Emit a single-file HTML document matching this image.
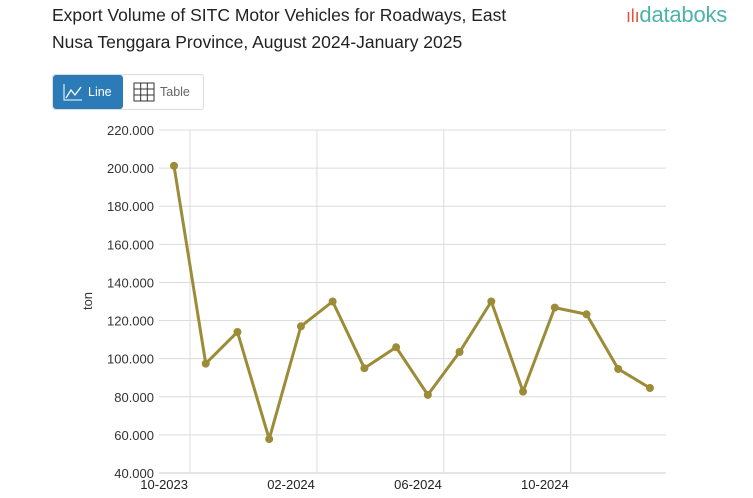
<!DOCTYPE html>
<html><head><meta charset="utf-8"><style>
body{margin:0;width:753px;height:498px;background:#fff;font-family:"Liberation Sans",sans-serif;overflow:hidden;position:relative}
.title{position:absolute;left:52px;top:2px;font-size:17.5px;line-height:27px;color:#222}
.logo{position:absolute;left:626px;top:2px;font-size:22px;color:#4bb3a8;letter-spacing:-0.2px}
.btns{position:absolute;left:52px;top:74px;height:34px;border:1px solid #ddd;border-radius:3px;display:flex}
.b{display:flex;align-items:center;font-size:12.5px;padding:0 10px;gap:5px}
.on{background:#2b7bb9;color:#fff;border-radius:3px;width:50px}
.off{color:#666;width:60px}
</style></head><body>
<div class="title">Export Volume of SITC Motor Vehicles for Roadways, East<br>Nusa Tenggara Province, August 2024-January 2025</div>
<div class="logo"><span style="color:#e5533d;font-size:18px">ılı</span>databoks</div>
<div class="btns">
<div class="b on"><svg width="20" height="18"><path d="M1 1V17H19" stroke="#fff" fill="none"/><path d="M3 15L8 7L12 12L18 4" stroke="#fff" fill="none" stroke-width="1.3"/></svg>Line</div>
<div class="b off"><svg width="22" height="20"><rect x="1" y="1" width="20" height="18" fill="none" stroke="#333"/><path d="M7.7 1V19M14.3 1V19M1 7H21M1 13H21" stroke="#333"/></svg>Table</div>
</div>
<svg id="c" width="753" height="498" style="position:absolute;left:0;top:0"></svg>
<script>
const categories=["10-2023","11-2023","12-2023","01-2024","02-2024","03-2024","04-2024","05-2024","06-2024","07-2024","08-2024","09-2024","10-2024","11-2024","12-2024","01-2025"];
const values=[201.2,97.4,114,57.8,117,130,95,106,81,103.5,130,82.7,126.8,123.3,94.6,84.6];
const yTicks=[40,60,80,100,120,140,160,180,200,220];
const xTickIdx=[0,4,8,12];
const ns="http://www.w3.org/2000/svg",svg=document.getElementById('c');
const L=159,R=666,T=130,B=473;
const x=i=>174+i*31.73;
const y=v=>B-(v-40)/180*(B-T);
function mk(t,a,p){const e=document.createElementNS(ns,t);for(const k in a)e.setAttribute(k,a[k]);(p||svg).appendChild(e);return e;}
yTicks.forEach(v=>{
 const g=mk('line',{x1:L,x2:R,y1:y(v),y2:y(v),stroke:v==40?'#e6e6e6':'#dcdcdc','stroke-width':v==40?2:1});
 
 
 const t=mk('text',{x:154,y:y(v)+5,'text-anchor':'end','font-size':13,fill:'#333','font-family':'Liberation Sans, sans-serif'});
 t.textContent=v.toFixed(3);
 
 
});
xTickIdx.forEach(i=>{
 const gx=x(i)+16;
 const g=mk('line',{x1:gx,x2:gx,y1:T,y2:B,stroke:'#dcdcdc'});
 
 
 const t=mk('text',{x:gx-2,y:489,'text-anchor':'end','font-size':13,fill:'#222','font-family':'Liberation Sans, sans-serif'});
 t.textContent=categories[i];
 
 
});
const at=mk('text',{transform:'translate(92,301) rotate(-90)','text-anchor':'middle','font-size':13,fill:'#333','font-family':'Liberation Sans, sans-serif'});
at.textContent='ton';


const pl=mk('polyline',{points:values.map((v,i)=>x(i)+','+y(v)).join(' '),fill:'none',stroke:'#9c8c37','stroke-width':3,'stroke-linejoin':'round'});


values.forEach((v,i)=>{
 const c=mk('circle',{cx:x(i),cy:y(v),r:4,fill:'#9c8c37'});
 
 
});
</script>
</body></html>
